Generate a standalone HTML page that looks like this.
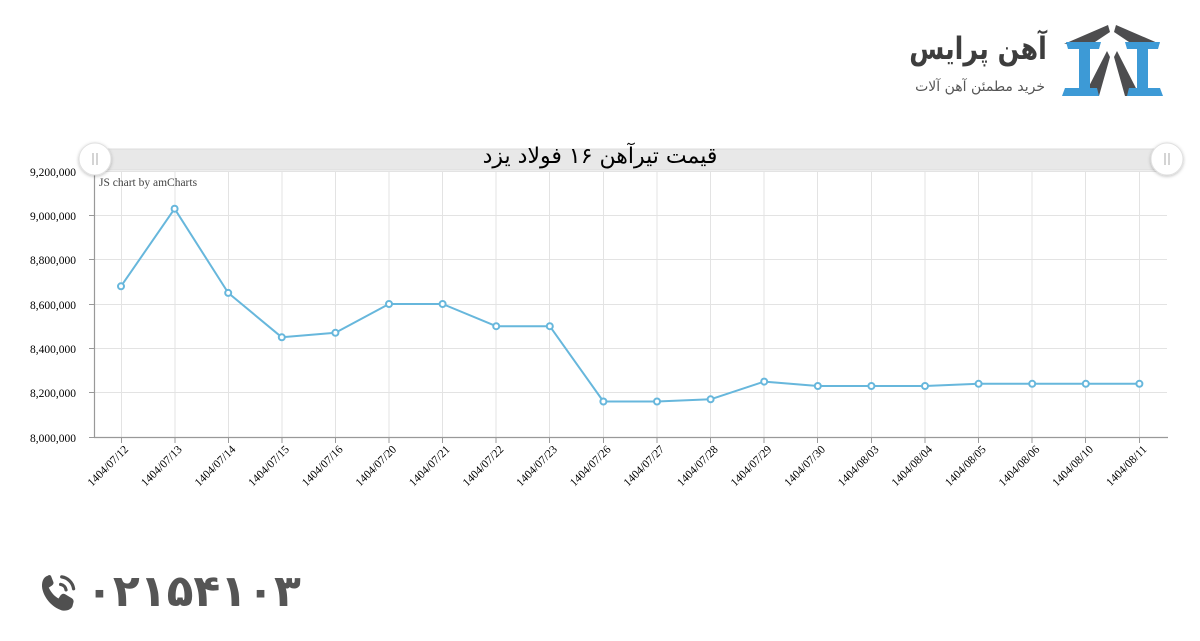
<!DOCTYPE html>
<html><head><meta charset="utf-8">
<style>
html,body{margin:0;padding:0;background:#fff;}
body{width:1200px;height:641px;position:relative;overflow:hidden;font-family:"Liberation Serif",serif;}
.fa{font-family:"DejaVu Sans","Noto Sans CJK SC",sans-serif;direction:rtl;position:absolute;white-space:nowrap;}
</style></head><body>
<svg width="1200" height="641" style="position:absolute;left:0;top:0" xmlns="http://www.w3.org/2000/svg">
  <!-- logo icon -->
  <g>
    <polygon points="1064,44 1108,25 1110,32 1092,44" fill="#4d4d4f"/>
    <polygon points="1160,44 1116,25 1114,32 1132,44" fill="#4d4d4f"/>
    <polygon points="1107,51 1110,57 1099,96 1084,96" fill="#4d4d4f"/>
    <polygon points="1117,51 1114,57 1125,96 1140,96" fill="#4d4d4f"/>
    <polygon points="1066,42 1101,42 1099,49 1090,49 1090,88 1097,88 1099,96 1062,96 1065,88 1079,88 1079,49 1068,49" fill="#3d9ad6"/>
    <polygon points="1125,42 1160,42 1158,49 1148,49 1148,88 1160,88 1163,96 1127,96 1129,88 1137,88 1137,49 1127,49" fill="#3d9ad6"/>
  </g>

  <g stroke="#e3e3e3" stroke-width="1">
    <line x1="94" y1="171.5" x2="1167" y2="171.5"/>
    <line x1="94" y1="215.5" x2="1167" y2="215.5"/>
    <line x1="94" y1="259.5" x2="1167" y2="259.5"/>
    <line x1="94" y1="304.5" x2="1167" y2="304.5"/>
    <line x1="94" y1="348.5" x2="1167" y2="348.5"/>
    <line x1="94" y1="392.5" x2="1167" y2="392.5"/>
  </g>
  <g stroke="#e3e3e3" stroke-width="1">
    <line x1="121.5" y1="171" x2="121.5" y2="437"/>
    <line x1="175" y1="171" x2="175" y2="437"/>
    <line x1="228.5" y1="171" x2="228.5" y2="437"/>
    <line x1="282" y1="171" x2="282" y2="437"/>
    <line x1="335.5" y1="171" x2="335.5" y2="437"/>
    <line x1="389" y1="171" x2="389" y2="437"/>
    <line x1="442.5" y1="171" x2="442.5" y2="437"/>
    <line x1="496" y1="171" x2="496" y2="437"/>
    <line x1="549.5" y1="171" x2="549.5" y2="437"/>
    <line x1="603.5" y1="171" x2="603.5" y2="437"/>
    <line x1="657" y1="171" x2="657" y2="437"/>
    <line x1="710.5" y1="171" x2="710.5" y2="437"/>
    <line x1="764" y1="171" x2="764" y2="437"/>
    <line x1="817.5" y1="171" x2="817.5" y2="437"/>
    <line x1="871.5" y1="171" x2="871.5" y2="437"/>
    <line x1="925" y1="171" x2="925" y2="437"/>
    <line x1="978.5" y1="171" x2="978.5" y2="437"/>
    <line x1="1032" y1="171" x2="1032" y2="437"/>
    <line x1="1085.5" y1="171" x2="1085.5" y2="437"/>
    <line x1="1139.5" y1="171" x2="1139.5" y2="437"/>
  </g>
  <g stroke="#999" stroke-width="1">
    <line x1="89" y1="171.5" x2="94" y2="171.5"/>
    <line x1="89" y1="215.5" x2="94" y2="215.5"/>
    <line x1="89" y1="259.5" x2="94" y2="259.5"/>
    <line x1="89" y1="304.5" x2="94" y2="304.5"/>
    <line x1="89" y1="348.5" x2="94" y2="348.5"/>
    <line x1="89" y1="392.5" x2="94" y2="392.5"/>
    <line x1="89" y1="437.5" x2="94" y2="437.5"/>
    <line x1="121.5" y1="437" x2="121.5" y2="443"/>
    <line x1="175" y1="437" x2="175" y2="443"/>
    <line x1="228.5" y1="437" x2="228.5" y2="443"/>
    <line x1="282" y1="437" x2="282" y2="443"/>
    <line x1="335.5" y1="437" x2="335.5" y2="443"/>
    <line x1="389" y1="437" x2="389" y2="443"/>
    <line x1="442.5" y1="437" x2="442.5" y2="443"/>
    <line x1="496" y1="437" x2="496" y2="443"/>
    <line x1="549.5" y1="437" x2="549.5" y2="443"/>
    <line x1="603.5" y1="437" x2="603.5" y2="443"/>
    <line x1="657" y1="437" x2="657" y2="443"/>
    <line x1="710.5" y1="437" x2="710.5" y2="443"/>
    <line x1="764" y1="437" x2="764" y2="443"/>
    <line x1="817.5" y1="437" x2="817.5" y2="443"/>
    <line x1="871.5" y1="437" x2="871.5" y2="443"/>
    <line x1="925" y1="437" x2="925" y2="443"/>
    <line x1="978.5" y1="437" x2="978.5" y2="443"/>
    <line x1="1032" y1="437" x2="1032" y2="443"/>
    <line x1="1085.5" y1="437" x2="1085.5" y2="443"/>
    <line x1="1139.5" y1="437" x2="1139.5" y2="443"/>
  </g>
  <line x1="94.5" y1="171" x2="94.5" y2="438" stroke="#999" stroke-width="1.2"/>
  <line x1="94" y1="437.5" x2="1168" y2="437.5" stroke="#999" stroke-width="1.2"/>

  <g font-family="Liberation Serif, serif" font-size="11.5" fill="#000" text-anchor="end">
    <text x="76" y="176">9,200,000</text>
    <text x="76" y="220">9,000,000</text>
    <text x="76" y="264">8,800,000</text>
    <text x="76" y="309">8,600,000</text>
    <text x="76" y="353">8,400,000</text>
    <text x="76" y="397">8,200,000</text>
    <text x="76" y="442">8,000,000</text>
  </g>

  <g font-family="Liberation Serif, serif" font-size="11.5" fill="#000" text-anchor="end">
    <text transform="translate(129,450) rotate(-45)">1404/07/12</text>
    <text transform="translate(182.6,450) rotate(-45)">1404/07/13</text>
    <text transform="translate(236.2,450) rotate(-45)">1404/07/14</text>
    <text transform="translate(289.8,450) rotate(-45)">1404/07/15</text>
    <text transform="translate(343.4,450) rotate(-45)">1404/07/16</text>
    <text transform="translate(397,450) rotate(-45)">1404/07/20</text>
    <text transform="translate(450.6,450) rotate(-45)">1404/07/21</text>
    <text transform="translate(504.2,450) rotate(-45)">1404/07/22</text>
    <text transform="translate(557.8,450) rotate(-45)">1404/07/23</text>
    <text transform="translate(611.4,450) rotate(-45)">1404/07/26</text>
    <text transform="translate(665,450) rotate(-45)">1404/07/27</text>
    <text transform="translate(718.6,450) rotate(-45)">1404/07/28</text>
    <text transform="translate(772.2,450) rotate(-45)">1404/07/29</text>
    <text transform="translate(825.8,450) rotate(-45)">1404/07/30</text>
    <text transform="translate(879.4,450) rotate(-45)">1404/08/03</text>
    <text transform="translate(933,450) rotate(-45)">1404/08/04</text>
    <text transform="translate(986.6,450) rotate(-45)">1404/08/05</text>
    <text transform="translate(1040.2,450) rotate(-45)">1404/08/06</text>
    <text transform="translate(1093.8,450) rotate(-45)">1404/08/10</text>
    <text transform="translate(1147.4,450) rotate(-45)">1404/08/11</text>
  </g>

  <polyline fill="none" stroke="#67b7dc" stroke-width="2" stroke-linejoin="round"
    points="121,286.3 174.6,208.7 228.2,292.9 281.8,337.3 335.4,332.8 389,304 442.6,304 496.2,326.2 549.8,326.2 603.4,401.5 657,401.5 710.6,399.3 764.2,381.6 817.8,386 871.4,386 925,386 978.6,383.8 1032.2,383.8 1085.8,383.8 1139.4,383.8"/>
  <g fill="#fff" stroke="#67b7dc" stroke-width="2">
    <circle cx="121" cy="286.3" r="3"/>
    <circle cx="174.6" cy="208.7" r="3"/>
    <circle cx="228.2" cy="292.9" r="3"/>
    <circle cx="281.8" cy="337.3" r="3"/>
    <circle cx="335.4" cy="332.8" r="3"/>
    <circle cx="389" cy="304" r="3"/>
    <circle cx="442.6" cy="304" r="3"/>
    <circle cx="496.2" cy="326.2" r="3"/>
    <circle cx="549.8" cy="326.2" r="3"/>
    <circle cx="603.4" cy="401.5" r="3"/>
    <circle cx="657" cy="401.5" r="3"/>
    <circle cx="710.6" cy="399.3" r="3"/>
    <circle cx="764.2" cy="381.6" r="3"/>
    <circle cx="817.8" cy="386" r="3"/>
    <circle cx="871.4" cy="386" r="3"/>
    <circle cx="925" cy="386" r="3"/>
    <circle cx="978.6" cy="383.8" r="3"/>
    <circle cx="1032.2" cy="383.8" r="3"/>
    <circle cx="1085.8" cy="383.8" r="3"/>
    <circle cx="1139.4" cy="383.8" r="3"/>
  </g>

  <rect x="95" y="149" width="1072" height="21" fill="#e8e8e8" stroke="#dcdcdc" stroke-width="1"/>
  <defs>
    <filter id="sh" x="-50%" y="-50%" width="200%" height="200%">
      <feDropShadow dx="0" dy="1" stdDeviation="1.5" flood-color="#000" flood-opacity="0.25"/>
    </filter>
  </defs>
  <circle cx="95" cy="159" r="16" fill="#fff" stroke="#e0e0e0" filter="url(#sh)"/>
  <circle cx="1167" cy="159" r="16" fill="#fff" stroke="#e0e0e0" filter="url(#sh)"/>
  <g stroke="#aaa" stroke-width="1">
    <line x1="93" y1="153" x2="93" y2="165"/><line x1="97" y1="153" x2="97" y2="165"/>
    <line x1="1165" y1="153" x2="1165" y2="165"/><line x1="1169" y1="153" x2="1169" y2="165"/>
  </g>

  <text x="99" y="186" font-family="Liberation Serif, serif" font-size="11.5" fill="#444">JS chart by amCharts</text>

  <g transform="translate(-2,-2) scale(1.08) translate(-2,-45)">
    <path fill="#505050" d="M48,580 C44,581 42,586 43,592 C45,601 52,609 61,612 C66,613 70,611 71,608 L72,604 C72,602 71,601 69,600 L64,597 C62,596 61,597 60,598 L58,601 C54,599 51,595 49,591 L52,589 C53,588 54,587 53,585 L51,580 C50,579 49,579 48,580 Z"/>
    <g fill="none" stroke="#505050" stroke-width="3" stroke-linecap="round">
      <path d="M60,588 A6,6 0 0 1 65,593"/>
      <path d="M61,581 A13,13 0 0 1 72,592"/>
    </g>
  </g>
</svg>

<div class="fa" style="left:400px;width:400px;top:141px;text-align:center;font-size:22px;color:#000;line-height:32px;">قیمت تیرآهن ۱۶ فولاد یزد</div>

<div class="fa" style="right:153px;top:26px;font-size:31px;font-weight:bold;color:#3d3d3d;line-height:46px;transform:scaleX(0.82);transform-origin:right center;">آهن پرایس</div>
<div class="fa" style="right:155px;top:77px;font-size:14px;color:#555;line-height:20px;">خرید مطمئن آهن آلات</div>

<div style="position:absolute;left:86px;top:562px;font-family:'DejaVu Sans',sans-serif;font-weight:bold;font-size:44px;color:#555;line-height:60px;direction:ltr;letter-spacing:1px;">۰۲۱۵۴۱۰۳</div>
</body></html>
